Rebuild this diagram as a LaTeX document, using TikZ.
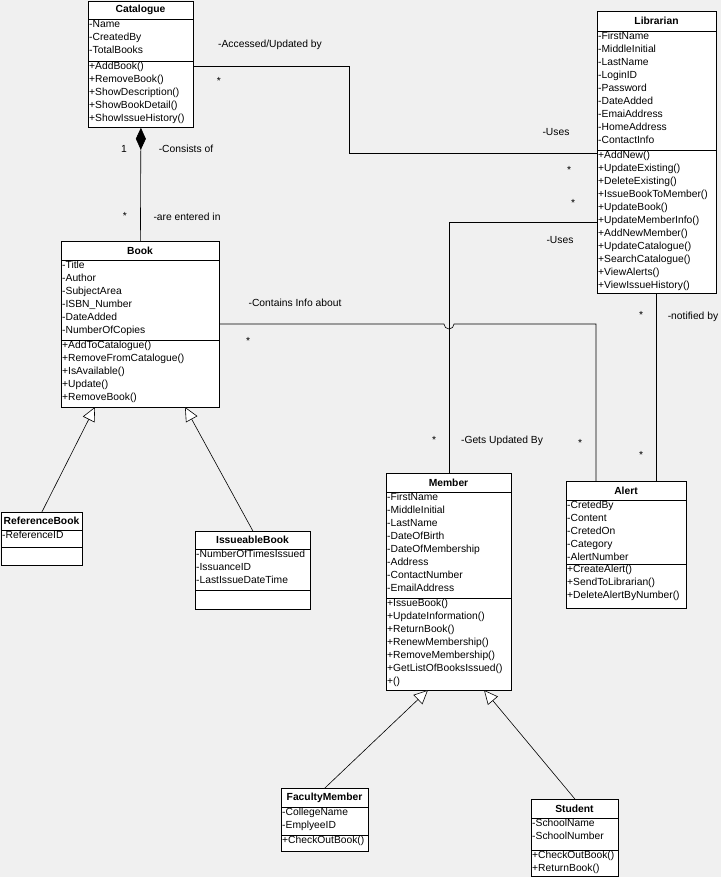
\documentclass[tikz,border=0pt]{standalone}
\usepackage{fontspec}
\setmainfont{Liberation Sans}
\usetikzlibrary{arrows.meta}
\tikzset{
  box/.style={draw=black, fill=white, line width=0.8pt, anchor=north west, inner sep=0pt},
  txt/.style={anchor=north west, inner sep=1pt, align=left, font=\fontsize{10.3}{13}\selectfont},
  ttl/.style={font=\fontsize{10.3}{13}\selectfont\bfseries, inner sep=0pt},
  con/.style={draw=black, line width=0.6pt},
  lbl/.style={font=\fontsize{10.3}{13}\selectfont, inner sep=0pt},
  gen/.style={con, -{Triangle[open, length=14pt, width=13pt, fill=white]}},
  comp/.style={con, {Diamond[length=22pt, width=10pt]}-}
}
% name x1 y1 x2 y2 ytitle yattr title attrs methods
\newcommand\umlcls[9]{%
  \node[box, minimum width=#4pt-#2pt, minimum height=#5pt-#3pt] (#1) at (#2,#3) {};
  \node[ttl] at ({(#2+#4)/2},{(#3+#6)/2}) {#7};
  \draw[line width=0.6pt] (#2,#6) -- (#4,#6);
  \node[txt] at (#2,#6) {#8};
}
\newcommand\umlsep[4]{\draw[line width=0.6pt] (#1,#3) -- (#2,#3); \node[txt] at (#1,#3) {#4};}
\begin{document}
\begin{tikzpicture}[x=1pt,y=-1pt]
\fill[white!94!black] (0,0) rectangle (721,877);
\useasboundingbox (0,0) rectangle (721,877);

% connectors first
\draw[con] (88,66) -- (349,66) -- (349,153) -- (597,153);
\draw[con] (597,222) -- (449,222) -- (449,473);
\draw[con] (219,324) -- (444,324) arc (180:0:5) -- (596,324) -- (596,481);
\draw[con] (656,293) -- (656,481);

\umlcls{catalogue}{88}{1}{193}{127}{19}{Catalogue}{-Name\\-CreatedBy\\-TotalBooks}{}
\umlsep{88}{193}{61}{+AddBook()\\+RemoveBook()\\+ShowDescription()\\+ShowBookDetail()\\+ShowIssueHistory()}

\umlcls{librarian}{597}{11}{716}{293}{31}{Librarian}{-FirstName\\-MiddleInitial\\-LastName\\-LoginID\\-Password\\-DateAdded\\-EmaiAddress\\-HomeAddress\\-ContactInfo}{}
\umlsep{597}{716}{150}{+AddNew()\\+UpdateExisting()\\+DeleteExisting()\\+IssueBookToMember()\\+UpdateBook()\\+UpdateMemberInfo()\\+AddNewMember()\\+UpdateCatalogue()\\+SearchCatalogue()\\+ViewAlerts()\\+ViewIssueHistory()}

\umlcls{book}{61}{241}{219}{407}{260}{Book}{-Title\\-Author\\-SubjectArea\\-ISBN\_Number\\-DateAdded\\-NumberOfCopies}{}
\umlsep{61}{219}{340}{+AddToCatalogue()\\+RemoveFromCatalogue()\\+IsAvailable()\\+Update()\\+RemoveBook()}

\umlcls{refbook}{1}{512}{82}{565}{530}{ReferenceBook}{-ReferenceID}{}
\umlsep{1}{82}{547}{}

\umlcls{issbook}{195}{531}{310}{609}{549}{IssueableBook}{-NumberOfTimesIssued\\-IssuanceID\\-LastIssueDateTime}{}
\umlsep{195}{310}{590}{}

\umlcls{member}{386}{473}{511}{690}{492}{Member}{-FirstName\\-MiddleInitial\\-LastName\\-DateOfBirth\\-DateOfMembership\\-Address\\-ContactNumber\\-EmailAddress}{}
\umlsep{386}{511}{598}{+IssueBook()\\+UpdateInformation()\\+ReturnBook()\\+RenewMembership()\\+RemoveMembership()\\+GetListOfBooksIssued()\\+()}

\umlcls{alert}{566}{481}{686}{608}{500}{Alert}{-CretedBy\\-Content\\-CretedOn\\-Category\\-AlertNumber}{}
\umlsep{566}{686}{564}{+CreateAlert()\\+SendToLibrarian()\\+DeleteAlertByNumber()}

\umlcls{faculty}{281}{788}{368}{851}{807}{FacultyMember}{-CollegeName\\-EmplyeeID}{}
\umlsep{281}{368}{835}{+CheckOutBook()}

\umlcls{student}{531}{799}{618}{876}{818}{Student}{-SchoolName\\-SchoolNumber}{}
\umlsep{531}{618}{850}{+CheckOutBook()\\+ReturnBook()}

% composition
\draw[comp] (catalogue.south) -- (book.north);
% generalizations
\draw[gen] (refbook.north) -- (95,407);
\draw[gen] (issbook.north) -- (185,407);
\draw[gen] (faculty.north) -- (428,690);
\draw[gen] (student.north) -- (484,690);

% labels
\node[lbl] at (270,45) {-Accessed/Updated by};
\node[lbl] at (219,81) {*};
\node[lbl] at (556,132) {-Uses};
\node[lbl] at (569,170) {*};
\node[lbl] at (124,149) {1};
\node[lbl] at (186,149) {-Consists of};
\node[lbl] at (125,216) {*};
\node[lbl] at (187,217) {-are entered in};
\node[lbl] at (573,203) {*};
\node[lbl] at (560,240) {-Uses};
\node[lbl] at (434,440) {*};
\node[lbl] at (502,441) {-Gets Updated By};
\node[lbl] at (295,303) {-Contains Info about};
\node[lbl] at (248,341) {*};
\node[lbl] at (580,443) {*};
\node[lbl] at (641,315) {*};
\node[lbl] at (693,317) {-notified by};
\node[lbl] at (641,455) {*};
\end{tikzpicture}
\end{document}
